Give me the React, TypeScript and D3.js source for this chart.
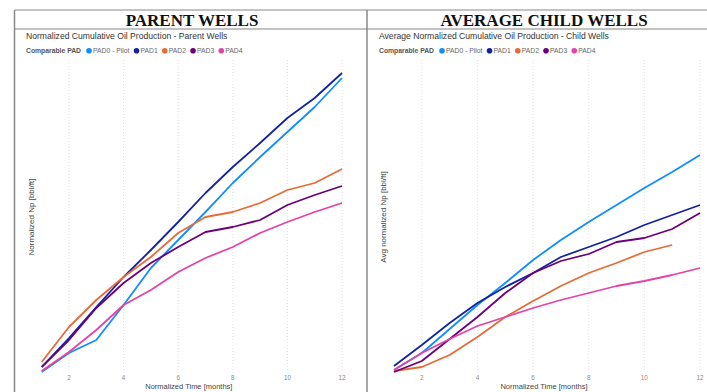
import * as d3 from 'd3'
import React from 'react'

// months on the x axis
const months = [1, 2, 3, 4, 5, 6, 7, 8, 9, 10, 11, 12]
const monthTicks = [2, 4, 6, 8, 10, 12]

const padNames = ['PAD0 - Pilot', 'PAD1', 'PAD2', 'PAD3', 'PAD4']
const padColors = ['#118DFF', '#12239E', '#E66C37', '#6B007B', '#E044A7']

// parent wells, normalized Np [bbl/ft]
const parentPad0 = [20, 115, 180, 355, 540, 680, 820, 965, 1095, 1220, 1345, 1490]
const parentPad1 = [45, 190, 345, 495, 630, 770, 915, 1045, 1165, 1290, 1390, 1515]
const parentPad2 = [70, 245, 380, 495, 595, 715, 795, 820, 865, 930, 965, 1035]
const parentPad3 = [45, 180, 340, 465, 565, 645, 720, 745, 780, 855, 905, 950]
const parentPad4 = [25, 120, 230, 355, 430, 520, 590, 645, 715, 770, 820, 865]

// child wells, average normalized Np [bbl/ft]
const childPad0 = [30, 115, 235, 355, 465, 580, 680, 770, 855, 940, 1020, 1105]
const childPad1 = [50, 155, 265, 365, 445, 515, 595, 645, 695, 755, 805, 855]
const childPad2 = [25, 45, 105, 195, 295, 375, 450, 515, 565, 620, 655]
const childPad3 = [20, 75, 185, 295, 415, 515, 575, 610, 670, 690, 735, 815]
const childPad4 = [30, 115, 185, 250, 295, 340, 380, 415, 450, 475, 505, 540]

const parentSeries = [parentPad0, parentPad1, parentPad2, parentPad3, parentPad4]
const childSeries = [childPad0, childPad1, childPad2, childPad3, childPad4]

const sans = '"Liberation Sans", Arial, sans-serif'

let ctx: CanvasRenderingContext2D | null = null
const measure = (txt: string, font: string) => {
    if (!ctx) ctx = document.createElement('canvas').getContext('2d')
    ctx!.font = font
    return ctx!.measureText(txt).width
}

const Panel = (props: any) => {
    const { left, xRange, title, titleX, subtitle, yTitle, yTitleX, series } = props

    const x = d3.scaleLinear().domain([1, 12]).range(xRange)
    const y = d3.scaleLinear().domain([0, 1600]).range([376, 56])

    const line = d3.line<number>()
        .x((d, i) => x(months[i]))
        .y(d => y(d))

    // legend layout
    const legendFont = `6.8px ${sans}`
    let lx = left + 12 + measure('Comparable PAD', `bold ${legendFont}`) + 5
    const legend = padNames.map((name, i) => {
        const item = { name, color: padColors[i], cx: lx + 3, tx: lx + 7 }
        lx = item.tx + measure(name, legendFont) + 4
        return item
    })

    return (
        <g>
            <text x={titleX} y={26} textAnchor="middle"
                style={{ fontFamily: '"Liberation Serif", "Times New Roman", serif', fontWeight: 'bold', fontSize: 17 }}
                fill="#111">{title}</text>
            <text x={left + 12} y={39} style={{ fontFamily: sans, fontSize: 8.6 }} fill="#333">{subtitle}</text>
            <text x={left + 12} y={53} style={{ fontFamily: sans, fontSize: 6.8, fontWeight: 'bold' }} fill="#555">Comparable PAD</text>
            {legend.map(l => (
                <g key={l.name}>
                    <circle cx={l.cx} cy={50.8} r={2.8} fill={l.color} />
                    <text x={l.tx} y={53} style={{ fontFamily: sans, fontSize: 6.8 }} fill="#666">{l.name}</text>
                </g>
            ))}

            {monthTicks.map(t => (
                <g key={t}>
                    <line x1={x(t)} x2={x(t)} y1={60} y2={372} stroke="#d8d8d8" strokeWidth={0.8} strokeDasharray="1,2" />
                    <text x={x(t)} y={380} textAnchor="middle" style={{ fontFamily: sans, fontSize: 6.3 }} fill="#888">{t}</text>
                </g>
            ))}
            <text x={(xRange[0] + xRange[1]) / 2 - 3} y={389} textAnchor="middle" style={{ fontFamily: sans, fontSize: 7.5 }} fill="#444">Normalized Time [months]</text>
            <text transform={`translate(${yTitleX},${217}) rotate(-90)`} textAnchor="middle" style={{ fontFamily: sans, fontSize: 8 }} fill="#444">{yTitle}</text>

            {series.map((s: number[], i: number) => (
                <path key={i} d={line(s) || ''} fill="none" stroke={padColors[i]} strokeWidth={1.8} strokeLinejoin="round" />
            ))}
        </g>
    )
}

export default function App() {
    return (
        <svg width={707} height={392} style={{ position: 'absolute', left: 0, top: 0, background: '#fff' }}>
            <rect x={0} y={0} width={707} height={392} fill="#fff" />
            <Panel left={14} xRange={[41.7, 342]} title="PARENT WELLS" titleX={192}
                subtitle="Normalized Cumulative Oil Production - Parent Wells"
                yTitle="Normalized Np [bbl/ft]" yTitleX={34} series={parentSeries} />
            <Panel left={367} xRange={[394, 700]} title="AVERAGE CHILD WELLS" titleX={544}
                subtitle="Average Normalized Cumulative Oil Production - Child Wells"
                yTitle="Avg normalized Np [bbl/ft]" yTitleX={386} series={childSeries} />

            {/* frame */}
            <line x1={14.5} x2={707} y1={10} y2={10} stroke="#888" strokeWidth={1.2} />
            <line x1={14.5} x2={707} y1={29} y2={29} stroke="#888" strokeWidth={1.2} />
            <line x1={14.5} x2={14.5} y1={10} y2={392} stroke="#888" strokeWidth={1.5} />
            <line x1={367} x2={367} y1={10} y2={392} stroke="#888" strokeWidth={1.5} />
        </svg>
    )
}
